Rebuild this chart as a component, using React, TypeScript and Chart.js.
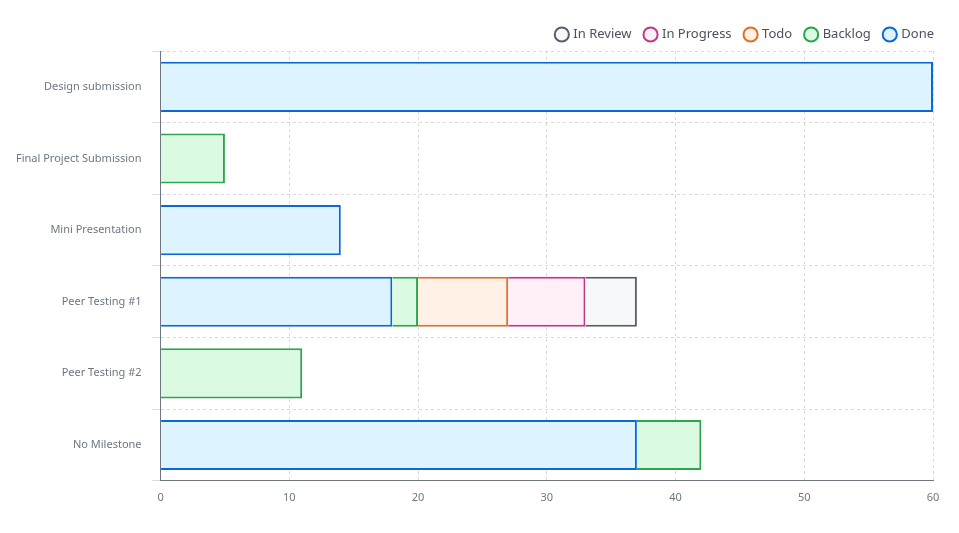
import React, { useEffect, useRef } from "react";
import { Chart, registerables } from "chart.js";

Chart.register(...registerables);

const categories = [
  "Design submission",
  "Final Project Submission",
  "Mini Presentation",
  "Peer Testing #1",
  "Peer Testing #2",
  "No Milestone",
];

const doneValues = [60, 0, 14, 18, 0, 37];
const backlogValues = [0, 5, 0, 2, 11, 5];
const todoValues = [0, 0, 0, 7, 0, 0];
const inProgressValues = [0, 0, 0, 6, 0, 0];
const inReviewValues = [0, 0, 0, 4, 0, 0];

const xTicks = [0, 10, 20, 30, 40, 50, 60];

const FONT = "'Noto Sans', 'Open Sans', sans-serif";

export default function App() {
  const ref = useRef<HTMLCanvasElement | null>(null);

  useEffect(() => {
    document.body.style.margin = "0";
    if (!ref.current) return;
    const mk = (label: string, data: number[], border: string, bg: string) => ({
      label,
      data: data.map((v) => (v === 0 ? null : v)),
      borderColor: border,
      backgroundColor: bg,
      borderWidth: 2,
      barPercentage: 0.7,
      categoryPercentage: 1,
    });
    const chart = new Chart(ref.current, {
      type: "bar",
      data: {
        labels: categories,
        datasets: [
          mk("Done", doneValues, "#0969da", "#ddf4ff"),
          mk("Backlog", backlogValues, "#2da44e", "#dafbe1"),
          mk("Todo", todoValues, "#e16f24", "#fff1e5"),
          mk("In Progress", inProgressValues, "#bf3989", "#ffeff7"),
          mk("In Review", inReviewValues, "#57606a", "#f6f8fa"),
        ] as any,
      },
      options: {
        indexAxis: "y",
        animation: false,
        responsive: true,
        maintainAspectRatio: false,
        layout: { padding: { top: 14, right: 11, bottom: 19, left: 5 } },
        plugins: {
          tooltip: { enabled: false },
          legend: {
            position: "top",
            align: "end",
            reverse: true,
            labels: {
              usePointStyle: true,
              pointStyle: "circle",
              boxWidth: 10,
              boxHeight: 10,
              padding: 14,
              color: "#4a525c",
              font: { family: FONT, size: 13 },
            },
          },
        },
        scales: {
          x: {
            stacked: true,
            min: 0,
            max: 60,
            z: 1,
            afterBuildTicks: (axis: any) => {
              axis.ticks = xTicks.map((v) => ({ value: v }));
            },
            afterFit: (scale: any) => {
              scale.paddingRight = 26;
            },
            ticks: {
              color: "#6e7781",
              padding: 10,
              font: { family: FONT, size: 11 },
            },
            grid: {
              color: "#d8dadd",
              drawTicks: false,
            },
            border: { color: "#6e7781", width: 1, dash: [3, 3] } as any,
          },
          y: {
            stacked: true,
            ticks: {
              color: "#6e7781",
              padding: 11,
              font: { family: FONT, size: 11 },
            },
            grid: {
              color: "#d8dadd",
              offset: true,
              tickLength: 8,
            },
            border: { color: "#6e7781", width: 1, dash: [3, 3] } as any,
          },
        },
      } as any,
    });
    return () => chart.destroy();
  }, []);

  return (
    <div style={{ position: "absolute", left: 0, top: 0, width: 959, height: 533 }}>
      <canvas ref={ref} />
    </div>
  );
}
